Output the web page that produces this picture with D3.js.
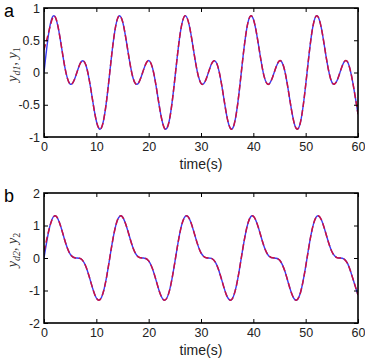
<!DOCTYPE html>
<html>
<head>
<meta charset="utf-8">
<script src="https://cdn.jsdelivr.net/npm/d3@7"></script>
<style>
  body { margin: 0; background: #fff; }
  svg text { font-family: "Liberation Sans", Arial, sans-serif; fill: #222; }
  .tick line { stroke: #000; stroke-width: 1; }
</style>
</head>
<body>
<div id="chart"></div>
<script>
// sample times (s)
var time = [0,1,2,3,4,5,6,7,8,9,10,11,12,13,14,15,16,17,18,19,20,
            21,22,23,24,25,26,27,28,29,30,31,32,33,34,35,36,37,38,39,40,
            41,42,43,44,45,46,47,48,49,50,51,52,53,54,55,56,57,58,59,60];

// panel a: reference (blue) and output (red dashed)
var yd1 = [0,0.661,0.875,0.569,0.076,-0.180,-0.069,0.153,0.116,-0.283,-0.752,
           -0.853,-0.408,0.318,0.824,0.794,0.351,-0.082,-0.170,0.037,0.185,
           -0.022,-0.505,-0.861,-0.721,-0.099,0.591,0.880,0.631,0.136,-0.169,
           -0.099,0.132,0.144,-0.216,-0.702,-0.871,-0.493,0.223,0.785,0.829,
           0.419,-0.040,-0.180,0.004,0.182,0.028,-0.437,-0.837,-0.773,-0.197,
           0.515,0.875,0.688,0.199,-0.150,-0.125,0.106,0.165,-0.152,-0.646];
var y1  = [0.35,0.661,0.875,0.569,0.076,-0.180,-0.069,0.153,0.116,-0.283,-0.752,
           -0.853,-0.408,0.318,0.824,0.794,0.351,-0.082,-0.170,0.037,0.185,
           -0.022,-0.505,-0.861,-0.721,-0.099,0.591,0.880,0.631,0.136,-0.169,
           -0.099,0.132,0.144,-0.216,-0.702,-0.871,-0.493,0.223,0.785,0.829,
           0.419,-0.040,-0.180,0.004,0.182,0.028,-0.437,-0.837,-0.773,-0.197,
           0.515,0.875,0.688,0.199,-0.150,-0.125,0.106,0.165,-0.152,-0.646];

// panel b
var yd2 = [0,0.900,1.296,1.068,0.531,0.119,0.001,-0.022,-0.262,-0.772,-1.231,
           -1.206,-0.548,0.425,1.152,1.263,0.846,0.318,0.037,0.000,-0.088,
           -0.461,-1.005,-1.299,-0.989,-0.133,0.802,1.282,1.126,0.603,0.156,
           0.005,-0.012,-0.212,-0.697,-1.190,-1.247,-0.664,0.298,1.087,1.286,
           0.918,0.379,0.056,0.000,-0.062,-0.395,-0.936,-1.290,-1.068,-0.264,
           0.694,1.256,1.177,0.677,0.199,0.010,-0.006,-0.167,-0.623,-1.140];
var y2  = [0.2,0.900,1.296,1.068,0.531,0.119,0.001,-0.022,-0.262,-0.772,-1.231,
           -1.206,-0.548,0.425,1.152,1.263,0.846,0.318,0.037,0.000,-0.088,
           -0.461,-1.005,-1.299,-0.989,-0.133,0.802,1.282,1.126,0.603,0.156,
           0.005,-0.012,-0.212,-0.697,-1.190,-1.247,-0.664,0.298,1.087,1.286,
           0.918,0.379,0.056,0.000,-0.062,-0.395,-0.936,-1.290,-1.068,-0.264,
           0.694,1.256,1.177,0.677,0.199,0.010,-0.006,-0.167,-0.623,-1.140];

var xTicks = [0,10,20,30,40,50,60];
var yTicksA = [-1,-0.5,0,0.5,1];
var yTicksB = [-2,-1,0,1,2];

var svg = d3.select("#chart").append("svg")
    .attr("width", 365)
    .attr("height", 358);

function drawPanel(opt) {
  var w = 314, h = opt.h;
  var g = svg.append("g")
      .attr("transform", "translate(" + opt.left + "," + opt.top + ")");

  var x = d3.scaleLinear().domain([0, 60]).range([0, w]);
  var y = d3.scaleLinear().domain(opt.yDomain).range([h, 0]);

  // clip so the curves stay in the box
  g.append("clipPath").attr("id", opt.id + "-clip")
    .append("rect").attr("width", w).attr("height", h);

  var line = d3.line()
      .curve(d3.curveNatural)
      .x(function(d, i) { return x(time[i]); })
      .y(function(d) { return y(d); });

  g.append("path")
      .datum(opt.ref)
      .attr("clip-path", "url(#" + opt.id + "-clip)")
      .attr("fill", "none")
      .attr("stroke", "#3b3bf2")
      .attr("stroke-width", 1.4)
      .attr("d", line);

  g.append("path")
      .datum(opt.out)
      .attr("clip-path", "url(#" + opt.id + "-clip)")
      .attr("fill", "none")
      .attr("stroke", "#cc1040")
      .attr("stroke-width", 1.5)
      .attr("stroke-dasharray", "6,3")
      .attr("d", line);

  // axes, ticks pointing inward on all four sides
  var fmt = function(d) { return String(d); };

  g.append("g")
      .attr("transform", "translate(0," + h + ")")
      .call(d3.axisBottom(x).tickValues(xTicks).tickSize(-4).tickPadding(5).tickFormat(fmt))
      .call(function(s) { s.select(".domain").remove(); s.selectAll("text").style("font-size", "12.5px"); });

  g.append("g")
      .call(d3.axisLeft(y).tickValues(opt.yTicks).tickSize(-4).tickPadding(4).tickFormat(fmt))
      .call(function(s) { s.select(".domain").remove(); s.selectAll("text").style("font-size", "12.5px"); });

  g.append("g")
      .call(d3.axisTop(x).tickValues(xTicks).tickSize(-4).tickFormat(""))
      .select(".domain").remove();

  g.append("g")
      .attr("transform", "translate(" + w + ",0)")
      .call(d3.axisRight(y).tickValues(opt.yTicks).tickSize(-4).tickFormat(""))
      .select(".domain").remove();

  // frame
  g.append("rect")
      .attr("width", w).attr("height", h)
      .attr("fill", "none")
      .attr("stroke", "#000")
      .attr("stroke-width", 1.6);

  // x label
  g.append("text")
      .attr("text-anchor", "middle")
      .attr("x", w / 2)
      .attr("y", h + 32)
      .style("font-size", "14px")
      .text("time(s)");

  // y label, rotated
  var yl = g.append("text")
      .attr("text-anchor", "middle")
      .attr("transform", "translate(" + (-27) + "," + (h / 2 - 8) + ")rotate(-90)")
      .style("font-family", "'Liberation Serif','Times New Roman',serif")
      .style("font-size", "14px")
      .style("fill", "#333");
  yl.append("tspan").style("font-style", "italic").text("y");
  yl.append("tspan").style("font-style", "italic").style("font-size", "10px").attr("dy", 3).text(opt.sub1);
  yl.append("tspan").attr("dy", -3).text(", ");
  yl.append("tspan").style("font-style", "italic").text("y");
  yl.append("tspan").style("font-size", "10px").attr("dy", 3).text(opt.sub2);

  // panel letter
  svg.append("text")
      .attr("x", 4)
      .attr("y", opt.top + opt.letterDy)
      .style("font-size", "18px")
      .style("fill", "#000")
      .text(opt.letter);
}

drawPanel({id: "a", left: 44, top: 8, h: 129, yDomain: [-1, 1], yTicks: yTicksA,
           ref: yd1, out: y1, sub1: "d1", sub2: "1", letter: "a", letterDy: 9});
drawPanel({id: "b", left: 44, top: 193, h: 130, yDomain: [-2, 2], yTicks: yTicksB,
           ref: yd2, out: y2, sub1: "d2", sub2: "2", letter: "b", letterDy: 9});
</script>
</body>
</html>
